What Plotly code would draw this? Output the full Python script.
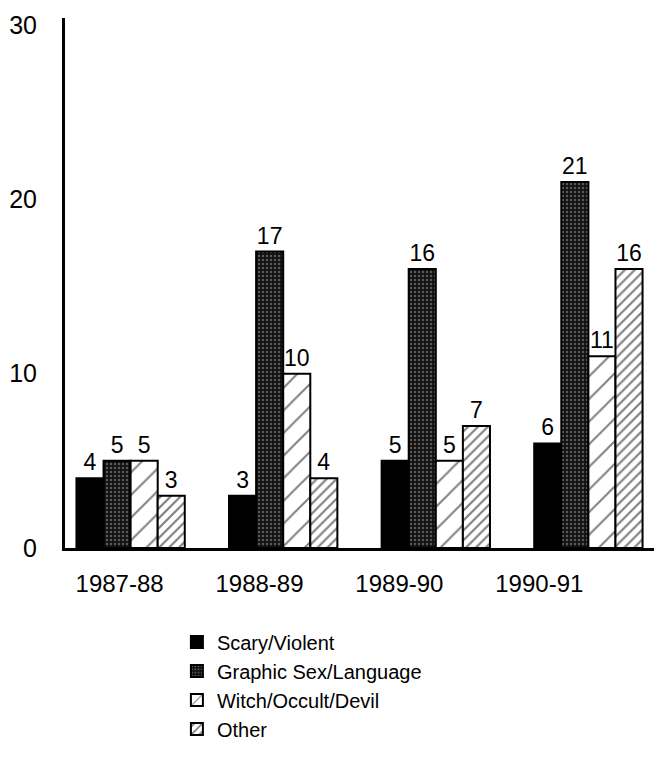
import plotly.graph_objects as go

years = ["1987-88", "1988-89", "1989-90", "1990-91"]
scary = [4, 3, 5, 6]
graphic = [5, 17, 16, 21]
witch = [5, 10, 5, 11]
other = [3, 4, 7, 16]
series_names = ["Scary/Violent", "Graphic Sex/Language", "Witch/Occult/Devil", "Other"]

FONT = "Liberation Sans, Arial, sans-serif"

patterns = [
    dict(shape="", bgcolor="black", fgcolor="black"),
    dict(shape=".", bgcolor="#111111", fgcolor="#a0a0a0", size=4, solidity=0.3),
    dict(shape="/", bgcolor="white", fgcolor="black", size=16, solidity=0.12),
    dict(shape="/", bgcolor="white", fgcolor="black", size=7, solidity=0.3),
]
colors = ["black", "#111111", "white", "white"]

fig = go.Figure()
for name, vals, pat, col in zip(series_names, [scary, graphic, witch, other], patterns, colors):
    fig.add_trace(go.Bar(
        x=years, y=vals, name=name, text=[str(v) for v in vals],
        textposition="outside", cliponaxis=False,
        textfont=dict(size=23, color="black", family=FONT),
        marker=dict(color=col, pattern=pat, line=dict(color="black", width=2)),
    ))

# invisible trace carrying the category tick labels on a second x axis
fig.add_trace(go.Scatter(x=years, y=[None] * 4, xaxis="x2", showlegend=False,
                         hoverinfo="skip", mode="markers"))

# the page body adds an 8px margin on every side, so the figure is 16px smaller
fig.update_layout(
    width=646, height=741,
    margin=dict(l=57, r=0, t=10, b=197),
    paper_bgcolor="white", plot_bgcolor="white",
    font=dict(family=FONT, color="black", size=22),
    barmode="group", bargap=0.29, bargroupgap=0,
    uniformtext=dict(minsize=18, mode="show"),
    xaxis=dict(type="category", range=[-0.43, 3.43], showticklabels=False,
               showline=True, linecolor="black", linewidth=3, ticks="",
               showgrid=False, zeroline=False, automargin=False),
    xaxis2=dict(type="category", overlaying="x", anchor="y", side="bottom",
                range=[-0.39, 3.82], showline=False, showgrid=False, ticks="",
                tickfont=dict(size=24, family=FONT), ticklabelstandoff=19,
                automargin=False),
    yaxis=dict(range=[0, 30.4], tickvals=[0, 10, 20, 30], showline=True,
               linecolor="black", linewidth=3, ticks="", showgrid=False,
               zeroline=False, tickfont=dict(size=25, family=FONT),
               ticklabelstandoff=20, automargin=False),
    legend=dict(x=0.19, y=-0.1405, xanchor="left", yanchor="top",
                font=dict(size=20, family=FONT), bgcolor="rgba(0,0,0,0)",
                tracegroupgap=0, itemwidth=30),
)

fig.write_html("out.html")
